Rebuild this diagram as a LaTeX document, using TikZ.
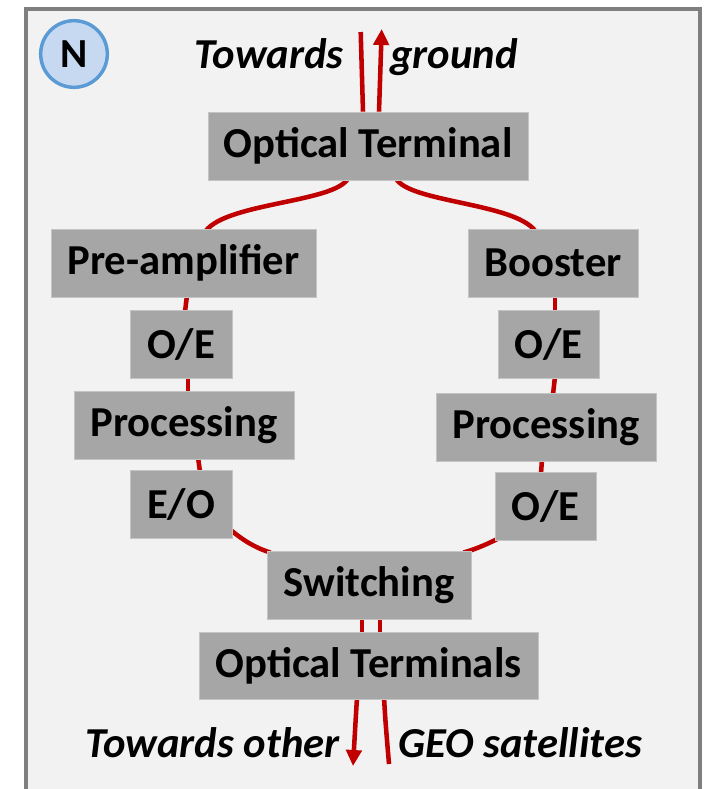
\documentclass[tikz,border=0pt]{standalone}
\usepackage{fontspec}
\setmainfont{Carlito}
\usetikzlibrary{calc,arrows.meta}
\definecolor{framefill}{HTML}{F2F2F2}
\definecolor{framedraw}{HTML}{7F7F7F}
\definecolor{boxfill}{HTML}{A6A6A6}
\definecolor{boxline}{HTML}{C4C4C4}
\definecolor{fiber}{HTML}{C00000}
\definecolor{nfill}{HTML}{C6D9F1}
\definecolor{ndraw}{HTML}{5B9BD5}
\pgfdeclarelayer{bg}
\pgfdeclarelayer{lines}
\pgfsetlayers{bg,lines,main}
\begin{document}
\begin{tikzpicture}[x=0.75pt,y=-0.75pt,
  blk/.style={fill=boxfill,draw=boxline,line width=0.6pt,inner sep=0pt,
    font=\fontsize{32}{38}\selectfont\bfseries,text=black},
  lbl/.style={font=\fontsize{32}{38}\selectfont\bfseries\itshape,inner sep=0pt},
  fib/.style={draw=fiber,line width=3.4pt},
  tip/.style={-{Triangle[length=12pt,width=11.5pt]}}]
\useasboundingbox (0,0) rectangle (705,789);
\begin{pgfonlayer}{bg}
  \fill[white] (0,0) rectangle (705,789);
  \draw[fill=framefill,draw=framedraw,line width=3pt] (25.5,9) rectangle (700,820);
\end{pgfonlayer}
% N badge
\node[circle,fill=nfill,draw=ndraw,line width=2.6pt,minimum size=50pt,inner sep=0pt,
  font=\fontsize{31}{36}\selectfont\bfseries] (nb) at (74,54) {N};
% boxes
\node[blk,minimum width=240pt,minimum height=51pt] (ot) at (368,146) {Optical Terminal};
\node[blk,minimum width=198.75pt,minimum height=51pt] (pre) at (183.5,263) {Pre-amplifier};
\node[blk,minimum width=127.5pt,minimum height=51pt] (boo) at (553,263) {Booster};
\node[blk,minimum width=76.5pt,minimum height=51pt] (oea) at (181,344) {O/E};
\node[blk,minimum width=75.75pt,minimum height=51pt] (oeb) at (548.5,344) {O/E};
\node[blk,minimum width=165pt,minimum height=51pt] (pra) at (184,425) {Processing};
\node[blk,minimum width=165pt,minimum height=51pt] (prb) at (546,427) {Processing};
\node[blk,minimum width=76.5pt,minimum height=51pt] (eo) at (181,504) {E/O};
\node[blk,minimum width=75.75pt,minimum height=51pt] (oec) at (545.5,506) {O/E};
\node[blk,minimum width=153pt,minimum height=51pt] (sw) at (369,585) {Switching};
\node[blk,minimum width=254.25pt,minimum height=50.25pt] (ots) at (368.5,665.5) {Optical Terminals};
% labels
\node[lbl,anchor=base east] (tw1) at (344,68) {Towards};
\node[lbl,anchor=base west] (gr) at (390,68) {ground};
\node[lbl,anchor=base east] (tw2) at (340,757) {Towards other};
\node[lbl,anchor=base west] (geo) at (398,757) {GEO satellites};
% free ends
\coordinate (upa) at (360.7,32);
\coordinate (upb) at (381.7,29);
\coordinate (dna) at (353,766);
\coordinate (dnb) at (389,764);
\begin{pgfonlayer}{lines}
  % to ground
  \draw[fib] ($(ot.north)+(-5,0)$) -- (upa);
  \draw[fib,tip] ($(ot.north)+(11,0)$) -- (upb);
  % ot to branches
  \draw[fib] ($(ot.south)+(-20,-2)$) .. controls +(-13,24) and +(22,-28) .. ($(pre.north)+(22.5,2)$);
  \draw[fib] ($(ot.south)+(28,-2)$) .. controls +(13,24) and +(-22,-28) .. ($(boo.north)+(-18,2)$);
  % left chain
  \draw[fib] ($(pre.south)+(3.5,-2)$) -- ($(oea.north)+(4,2)$);
  \draw[fib] ($(oea.south)+(7,-2)$) -- ($(pra.north)+(4,2)$);
  \draw[fib] ($(pra.south)+(14,-2)$) -- ($(eo.north)+(19,2)$);
  % right chain
  \draw[fib] ($(boo.south)+(2,-2)$) -- ($(oeb.north)+(6.5,2)$);
  \draw[fib] ($(oeb.south)+(6.5,-2)$) -- ($(prb.north)+(7,2)$);
  \draw[fib] ($(prb.south)+(-4,-2)$) -- ($(oec.north)+(-4.5,2)$);
  % into switching
  \draw[fib] ($(eo.east)+(-4,24)$) .. controls +(14,12) and +(-16,-5) .. ($(sw.north west)+(4,2)$);
  \draw[fib] ($(oec.south west)+(6,-3)$) .. controls +(-12,6) and +(14,-4) .. ($(sw.north east)+(-8,2)$);
  % switching to terminals
  \draw[fib] ($(sw.south)+(-7,-2)$) -- ($(ots.north)+(-6.5,2)$);
  \draw[fib] ($(sw.south)+(11,-2)$) -- ($(ots.north)+(11.5,2)$);
  % to other GEO
  \draw[fib,tip] ($(ots.south)+(-11.5,-2)$) .. controls +(-1.5,25) .. (dna);
  \draw[fib] ($(ots.south)+(15.5,-2)$) .. controls +(1.5,25) .. (dnb);
\end{pgfonlayer}
\end{tikzpicture}
\end{document}
